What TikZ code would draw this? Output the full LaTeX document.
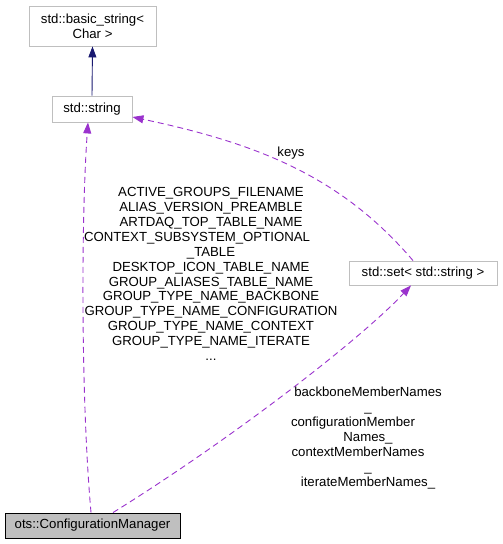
\documentclass[tikz,border=0pt]{standalone}
\usepackage{fontspec}
\setmainfont{Liberation Sans}
\usetikzlibrary{arrows.meta}
\definecolor{boxgray}{HTML}{BFBFBF}
\definecolor{edgepurple}{HTML}{9A32CD}
\definecolor{edgenavy}{HTML}{191970}
\tikzset{
  extbox/.style={draw=boxgray, line width=0.9pt, fill=white, inner sep=0pt, align=center, font=\fontsize{13.2}{14.9}\selectfont},
  mainbox/.style={draw=black, line width=0.9pt, fill=boxgray, inner sep=0pt, align=center, font=\fontsize{13.2}{14.9}\selectfont},
  lbl/.style={inner sep=0pt, align=center, font=\fontsize{13.2}{14.85}\selectfont},
  inherit/.style={draw=edgenavy, line width=0.9pt, -{Triangle[length=11pt,width=8pt]}},
  usage/.style={draw=edgepurple, line width=0.9pt, dash pattern=on 6pt off 4pt, -{Triangle[length=11pt,width=8pt]}},
}
\begin{document}
\begin{tikzpicture}[x=1pt,y=-1pt]
\useasboundingbox (0,0) rectangle (503,544);
\node[extbox, minimum width=127pt, minimum height=40pt] (bs) at (92.5,26) {std::basic\_string<\\Char >};
\node[extbox, minimum width=80pt, minimum height=26pt] (str) at (92,109) {std::string};
\node[extbox, minimum width=148pt, minimum height=24pt] (set) at (423,273) {std::set< std::string >};
\node[mainbox, minimum width=175pt, minimum height=25pt] (cm) at (92.5,525.5) {ots::ConfigurationManager};

\draw[inherit] (str.north) -- (bs.south);
\draw[usage] ([xshift=-1.5pt]cm.north) .. controls (81,400) and (81,220) .. ([xshift=-4pt]str.south);
\draw[usage] ([xshift=20.5pt]cm.north) .. controls (230,440) and (360,340) .. ([xshift=-12pt]set.south);
\draw[usage] ([xshift=-10pt]set.north) .. controls (340,175) and (255,143) .. ([yshift=-8pt]str.east);

\node[lbl] (keys) at (291,153) {keys};
\node[lbl] (consts) at (211,274) {ACTIVE\_GROUPS\_FILENAME\\ALIAS\_VERSION\_PREAMBLE\\ARTDAQ\_TOP\_TABLE\_NAME\\CONTEXT\_SUBSYSTEM\_OPTIONAL\rule{28pt}{0pt}\\\_TABLE\\DESKTOP\_ICON\_TABLE\_NAME\\GROUP\_ALIASES\_TABLE\_NAME\\GROUP\_TYPE\_NAME\_BACKBONE\\GROUP\_TYPE\_NAME\_CONFIGURATION\\GROUP\_TYPE\_NAME\_CONTEXT\\GROUP\_TYPE\_NAME\_ITERATE\\...};
\node[lbl] (members) at (368,438) {backboneMemberNames\\\_\\configurationMember\rule{30pt}{0pt}\\Names\_\\contextMemberNames\rule{20pt}{0pt}\\\_\\iterateMemberNames\_};
\end{tikzpicture}
\end{document}
